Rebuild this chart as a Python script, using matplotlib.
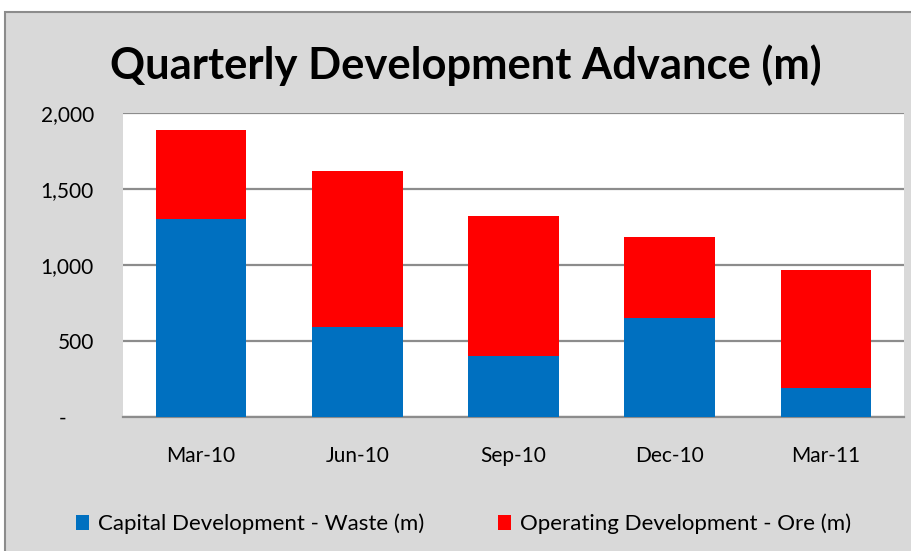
import matplotlib.pyplot as plt
from matplotlib.patches import Rectangle
import numpy as np

quarters = ['Mar-10', 'Jun-10', 'Sep-10', 'Dec-10', 'Mar-11']
capital_waste = [1300, 592, 400, 652, 190]
operating_ore = [588, 1026, 922, 534, 777]
yticks = [0, 500, 1000, 1500, 2000]
ytick_labels = ['-     ', '500', '1,000', '1,500', '2,000']

plt.rcParams['font.family'] = ['Lato', 'DejaVu Sans']

fig = plt.figure(figsize=(9.12, 5.51), dpi=100)
fig.patch.set_facecolor('white')

# grey chart frame
fig.patches.append(Rectangle((5/912, -0.01), 1.0, (551-12)/551 + 0.01,
                             transform=fig.transFigure, facecolor='#d9d9d9',
                             edgecolor='#8c8c8c', linewidth=1.5, zorder=-5))

ax = fig.add_axes([123/912, (551-417)/551, 781/912, 304/551])
ax.set_facecolor('white')

x = np.arange(len(quarters))
ax.bar(x, capital_waste, width=0.58, color='#0070c0',
       label='Capital Development - Waste (m)', zorder=3)
ax.bar(x, operating_ore, width=0.58, bottom=capital_waste, color='#ff0000',
       label='Operating Development - Ore (m)', zorder=3)

ax.set_xlim(-0.5, len(quarters) - 0.5)
ax.set_ylim(0, 2000)
ax.set_yticks(yticks)
ax.set_yticklabels(ytick_labels, fontsize=15)
ax.set_xticks(x)
ax.set_xticklabels(quarters, fontsize=15)
ax.tick_params(axis='both', length=0)
ax.tick_params(axis='y', pad=21)
ax.tick_params(axis='x', pad=21)
ax.yaxis.grid(True, color='#8c8c8c', linewidth=1.6, zorder=1)
ax.set_axisbelow(True)
for s in ['left', 'right', 'top']:
    ax.spines[s].set_visible(False)
ax.spines['bottom'].set_color('#8c8c8c')
ax.spines['bottom'].set_linewidth(1.6)

fig.text(0.511, (551-65)/551, 'Quarterly Development Advance (m)',
         fontsize=31.3, fontweight='bold', ha='center', va='center')

fig.legend(loc='center left', bbox_to_anchor=(65/912, (551-524)/551), ncol=2,
           frameon=False, fontsize=16, borderpad=0, handlelength=0.6,
           handleheight=0.6, handletextpad=0.4, columnspacing=3.3)

fig.savefig('out.png', dpi=100)
